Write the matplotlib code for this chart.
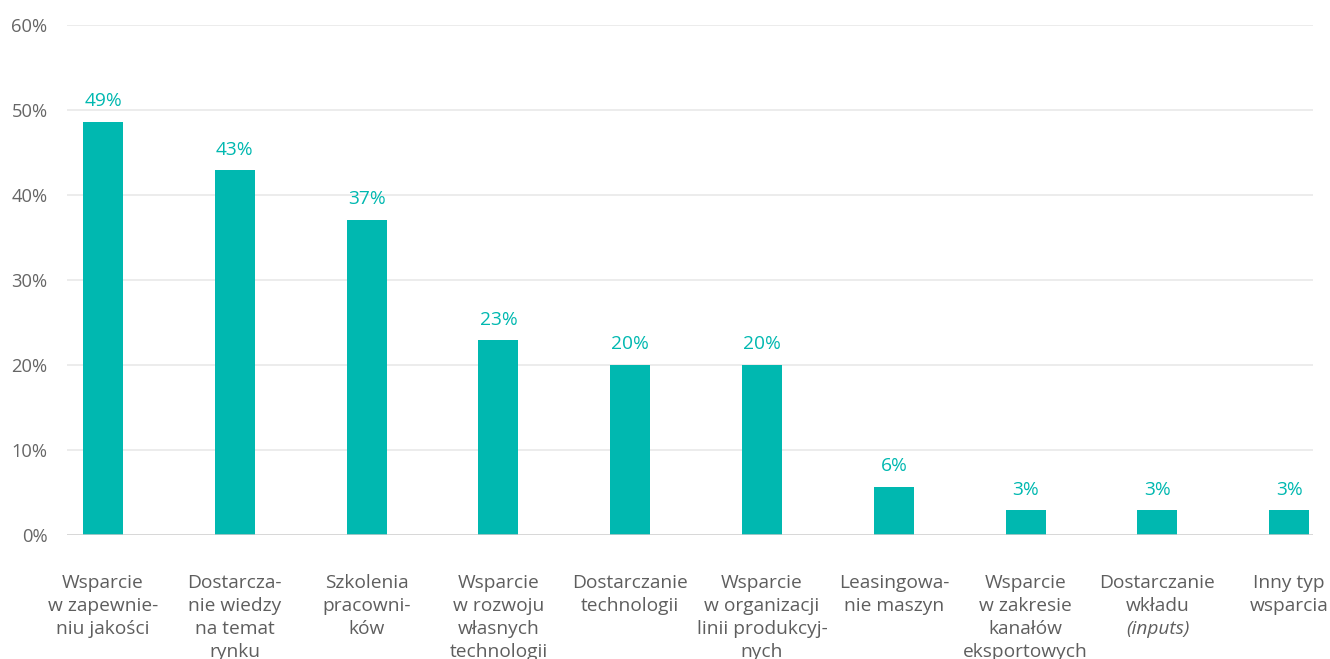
import matplotlib
matplotlib.use('Agg')
import matplotlib.pyplot as plt
from matplotlib import transforms

plt.rcParams['font.family'] = ['Open Sans', 'DejaVu Sans']

categories = [
    'Wsparcie\nw zapewnie-\nniu jakości',
    'Dostarcza-\nnie wiedzy\nna temat\nrynku',
    'Szkolenia\npracowni-\nków',
    'Wsparcie\nw rozwoju\nwłasnych\ntechnologii',
    'Dostarczanie\ntechnologii',
    'Wsparcie\nw organizacji\nlinii produkcyj-\nnych',
    'Leasingowa-\nnie maszyn',
    'Wsparcie\nw zakresie\nkanałów\neksportowych',
    'Dostarczanie\nwkładu\n(inputs)',
    'Inny typ\nwsparcia',
]
values = [48.6, 42.9, 37.1, 22.9, 20.0, 20.0, 5.7, 2.9, 2.9, 2.9]
yticks = [0, 10, 20, 30, 40, 50, 60]

bar_color = '#00B8B0'
text_gray = '#666666'

fig = plt.figure(figsize=(13.3, 6.59), dpi=100)
ax = fig.add_axes([0.0504, 0.1882, 0.9368, 0.7738])

x = list(range(len(values)))
ax.bar(x, values, width=0.303, color=bar_color, zorder=3)

for xi, v in zip(x, values):
    ax.annotate(f'{round(v)}%', (xi, v), xytext=(0, 8.5), textcoords='offset points',
                ha='center', va='bottom', fontsize=13.8, color=bar_color)

ax.set_xlim(-0.273, 9.18)
ax.set_ylim(0, 60)
ax.set_yticks(yticks)
ax.set_yticklabels([f'{t}%' for t in yticks], fontsize=13.2, color=text_gray)
ax.tick_params(axis='y', length=0, pad=14)
ax.set_xticks([])
for t in yticks[1:]:
    ax.axhline(t, color='#ebebeb', lw=1.3, zorder=1)
ax.axhline(0, color='#cccccc', lw=1.8, zorder=4)
for s in ax.spines.values():
    s.set_visible(False)

# category labels drawn line by line (one line is italic)
trans = transforms.blended_transform_factory(ax.transData, ax.transAxes)
step = 16.5
for xi, lab in zip(x, categories):
    for i, line in enumerate(lab.split('\n')):
        style = 'italic' if line.startswith('(') else 'normal'
        ax.annotate(line, (xi, 0), xycoords=trans, xytext=(0, -28 - i * step),
                    textcoords='offset points', ha='center', va='top',
                    fontsize=13.8, color='#5e5e5e', style=style, annotation_clip=False)

fig.savefig('out.png', dpi=100)
